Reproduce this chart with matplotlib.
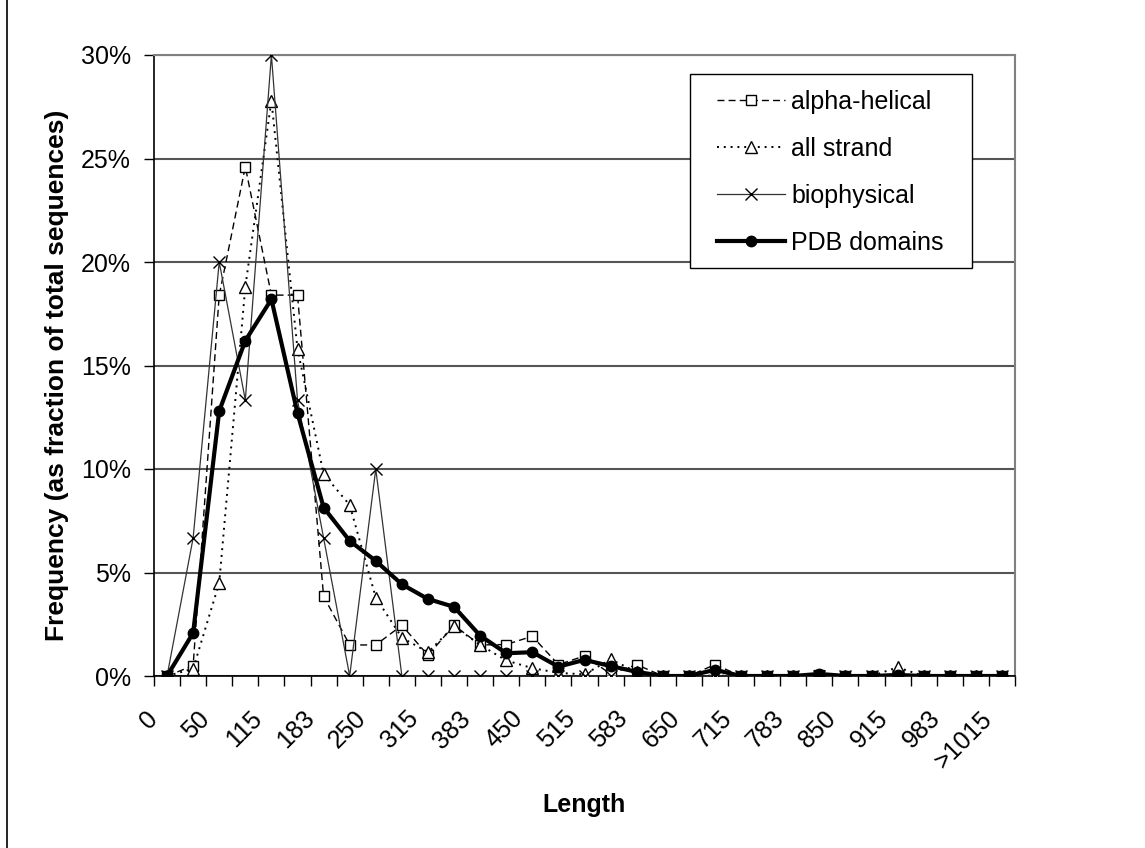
import numpy as np
import matplotlib
matplotlib.use("Agg")
from matplotlib import pyplot as plt
from matplotlib.ticker import FuncFormatter
from matplotlib.lines import Line2D
from matplotlib.patches import Rectangle
from matplotlib.transforms import ScaledTranslation

plt.rcParams["font.family"] = ["Liberation Sans", "DejaVu Sans"]

# 33 length bins, only every other one is labelled
n_bins = 33
shown_labels = ["0", "50", "115", "183", "250", "315", "383", "450", "515",
                "583", "650", "715", "783", "850", "915", "983", ">1015"]

# frequencies in percent of total sequences
alpha_helical = [0, 0.5, 18.4, 24.6, 18.4, 18.4, 3.85, 1.5, 1.5, 2.45, 1.0,
                 2.45, 1.5, 1.52, 1.92, 0.55, 0.97, 0.1, 0.55, 0, 0, 0.55,
                 0, 0, 0, 0.05, 0, 0, 0.05, 0, 0, 0, 0]
all_strand = [0, 0.35, 4.5, 18.8, 27.8, 15.8, 9.76, 8.26, 3.79, 1.85, 1.15,
              2.4, 1.5, 0.75, 0.38, 0.15, 0.08, 0.8, 0.2, 0, 0, 0.02,
              0, 0, 0, 0, 0, 0, 0.42, 0, 0, 0, 0]
biophysical = [0, 6.67, 20.0, 13.33, 30.0, 13.33, 6.67, 0, 10.0, 0, 0,
               0, 0, 0, 0, 0, 0, 0, 0, 0, 0, 0,
               0, 0, 0, 0, 0, 0, 0, 0, 0, 0, 0]
pdb_domains = [0, 2.08, 12.8, 16.2, 18.2, 12.7, 8.14, 6.53, 5.56, 4.43, 3.72,
               3.34, 1.95, 1.1, 1.15, 0.45, 0.78, 0.48, 0.2, 0, 0, 0.3,
               0, 0, 0, 0.1, 0, 0, 0.05, 0, 0, 0, 0]

W, H = 1145, 848
FS = 18
fig = plt.figure(figsize=(W / 100, H / 100), dpi=100)
ax = fig.add_axes([154 / W, 1 - 676 / H, (1015 - 154) / W, (676 - 55) / H])

x = np.arange(n_bins)
ax.plot(x, alpha_helical, color="black", lw=1.0, ls=(0, (5, 3)),
        marker="s", ms=7.5, mfc="white", mec="black", mew=1.0,
        label="alpha-helical", zorder=3)
ax.plot(x, all_strand, color="black", lw=1.4, ls=(0, (1, 2.5)),
        marker="^", ms=9, mfc="white", mec="black", mew=1.0,
        label="all strand", zorder=4)
ax.plot(x, biophysical, color="#333333", lw=0.9, ls="-",
        marker="x", ms=9, mec="black", mew=1.0,
        label="biophysical", zorder=5)
ax.plot(x, pdb_domains, color="black", lw=3.0, ls="-",
        marker="o", ms=7.5, mfc="black", mec="black",
        label="PDB domains", zorder=6)

ax.set_xlim(-0.5, n_bins - 0.5)
ax.set_ylim(0, 30)

# gridlines
ax.set_yticks(np.arange(0, 31, 5))
ax.yaxis.set_major_formatter(FuncFormatter(lambda v, p: f"{v:.0f}%"))
ax.grid(axis="y", color="#555555", lw=1.5, zorder=1)
ax.set_axisbelow(True)

# category boundaries get the tick marks, labels sit on every other bin
ax.set_xticks(np.arange(-0.5, n_bins, 1.0), minor=True)
ax.set_xticks(np.arange(0, n_bins, 2), shown_labels)
ax.tick_params(axis="x", which="minor", length=7, width=1, color="black",
               direction="out")
ax.tick_params(axis="x", which="major", length=0, pad=28, labelsize=FS)
ax.tick_params(axis="y", length=7, width=1, direction="out", labelsize=FS,
               pad=9.5)
for lab in ax.get_xticklabels():
    lab.set_rotation(45)
    lab.set_ha("right")
    lab.set_va("center")
    lab.set_rotation_mode("anchor")
    lab.set_transform(lab.get_transform()
                      + ScaledTranslation(-13 / 100, 0, fig.dpi_scale_trans))

for side in ["top", "right"]:
    ax.spines[side].set_color("#808080")
    ax.spines[side].set_linewidth(1.5)
for side in ["left", "bottom"]:
    ax.spines[side].set_color("black")
    ax.spines[side].set_linewidth(1.2)

ax.set_ylabel("Frequency (as fraction of total sequences)", fontsize=19,
              fontweight="bold")
ax.yaxis.set_label_coords(-0.0987, 0.485)
ax.set_xlabel("Length", fontsize=FS, fontweight="bold")
ax.xaxis.set_label_coords(0.4994, -0.208)
ax.xaxis.label.set_va("center")

# legend box drawn separately, entries placed inside it without a frame
ax.add_patch(Rectangle((690 / W, 1 - 268 / H), (972 - 690) / W,
                       (268 - 74) / H, transform=fig.transFigure,
                       facecolor="white", edgecolor="black", lw=1.0,
                       zorder=8, clip_on=False))
leg = ax.legend(loc="upper left", bbox_to_anchor=(717 / W, 1 - 90 / H),
                bbox_transform=fig.transFigure, borderaxespad=0,
                borderpad=0, fontsize=FS, handlelength=2.72,
                handletextpad=0.25, labelspacing=0.92, markerscale=1.0,
                frameon=False)
leg.set_zorder(10)

# outer chart border line on the left
fig.add_artist(Line2D([7 / W, 7 / W], [0, 1], color="black", lw=1.2))

fig.savefig("out.png", dpi=100)
